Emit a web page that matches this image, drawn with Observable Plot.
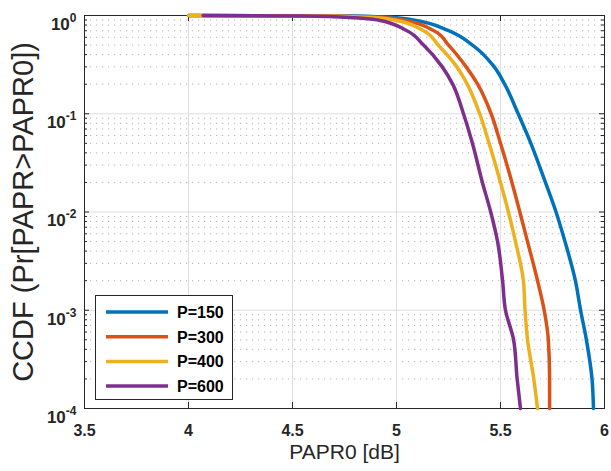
<!DOCTYPE html>
<html><head><meta charset="utf-8">
<script src="https://cdn.jsdelivr.net/npm/d3@7"></script>
<script src="https://cdn.jsdelivr.net/npm/@observablehq/plot@0.6"></script>
<style>body{margin:0;background:#fff} #chart svg{display:block}</style>
</head><body><div id="chart"></div>
<script>
// CCDF probability levels (y) shared by every curve
const levels = [1, 0.99, 0.95, 0.9, 0.7, 0.5, 0.3, 0.2, 0.1, 0.05, 0.02, 0.01, 0.005, 0.002, 0.001, 0.0005, 0.0002, 0.0001];
// PAPR0 [dB] (x) where each curve crosses those levels
const papr150 = [4.0, 4.8, 5.0, 5.08, 5.25, 5.365, 5.47, 5.52, 5.585, 5.646, 5.716, 5.767, 5.81, 5.86, 5.885, 5.913, 5.94, 5.947];
const papr300 = [4.0, 4.7, 4.95, 5.03, 5.18, 5.25, 5.335, 5.39, 5.455, 5.50, 5.555, 5.593, 5.63, 5.678, 5.71, 5.73, 5.736, 5.736];
const papr400 = [4.0, 4.65, 4.9, 4.99, 5.13, 5.20, 5.29, 5.34, 5.40, 5.445, 5.5, 5.538, 5.572, 5.61, 5.618, 5.63, 5.66, 5.678];
const papr600 = [4.07, 4.55, 4.8, 4.91, 5.05, 5.13, 5.22, 5.27, 5.322, 5.365, 5.413, 5.453, 5.486, 5.51, 5.524, 5.563, 5.58, 5.596];
const seriesNames = ["P=150", "P=300", "P=400", "P=600"];
const seriesColors = ["#0072BD", "#D95319", "#EDB120", "#7E2F8E"];
const xTicks = [3.5, 4, 4.5, 5, 5.5, 6];
const yTicks = [1e-4, 1e-3, 1e-2, 1e-1, 1];
const yTickLabels = ["10^-4", "10^-3", "10^-2", "10^-1", "10^0"];
const xLabel = "PAPR0 [dB]";
const yLabel = "CCDF (Pr[PAPR>PAPR0])";

const allSeries = [papr150, papr300, papr400, papr600];
const rows = [];
allSeries.forEach((xs, i) => xs.forEach((x, j) => rows.push({series: seriesNames[i], x, y: levels[j]})));
const yMinor = [];
for (let e = -4; e < 0; e++) for (let m = 2; m <= 9; m++) yMinor.push(m * Math.pow(10, e));

const W = 611, H = 471, mL = 84, mR = 7, mT = 15, mB = 63;
const pw = W - mL - mR, ph = H - mT - mB;
const axisColor = "#262626";
const font = "'Liberation Sans', Arial, Helvetica, sans-serif";

const chart = Plot.plot({
  width: W, height: H, marginLeft: mL, marginRight: mR, marginTop: mT, marginBottom: mB,
  style: {fontFamily: font, background: "#fff", color: axisColor},
  x: {domain: [3.5, 6]},
  y: {type: "log", domain: [1e-4, 1]},
  color: {domain: seriesNames, range: seriesColors},
  marks: [
    Plot.ruleY(yMinor, {y: d => d, stroke: "#b4b4b4", strokeWidth: 1, strokeDasharray: "1.2,4.8"}),
    Plot.ruleX(xTicks, {x: d => d, stroke: "#dedede", strokeWidth: 1}),
    Plot.ruleY(yTicks, {y: d => d, stroke: "#dedede", strokeWidth: 1}),
    Plot.frame({stroke: axisColor, strokeWidth: 1}),
    // inward ticks
    Plot.tickX(xTicks, {x: d => d, insetTop: ph - 6, stroke: axisColor}),
    Plot.tickX(xTicks, {x: d => d, insetBottom: ph - 6, stroke: axisColor}),
    Plot.tickY(yTicks, {y: d => d, insetRight: pw - 5, stroke: axisColor}),
    Plot.tickY(yTicks, {y: d => d, insetLeft: pw - 5, stroke: axisColor}),
    Plot.tickY(yMinor, {y: d => d, insetRight: pw - 3, stroke: axisColor}),
    Plot.tickY(yMinor, {y: d => d, insetLeft: pw - 3, stroke: axisColor}),
    Plot.line(rows, {x: "x", y: "y", z: "series", stroke: "series", strokeWidth: 3.5, strokeLinejoin: "round", curve: "monotone-y"}),
    Plot.axisX(xTicks, {tickSize: 0, tickPadding: 16, fontSize: 16, fontWeight: "bold", label: null, tickFormat: d => String(d)}),
    Plot.axisY(yTicks, {tickSize: 0, tickPadding: 8, fontSize: 17, fontWeight: "bold", label: null, dy: 9,
      tickFormat: d => yTickLabels[yTicks.indexOf(d)]}),
    Plot.text([xLabel], {frameAnchor: "bottom", dy: 50, fontSize: 21, fill: axisColor}),
    Plot.text([yLabel], {frameAnchor: "left", dx: -61, rotate: -90, textAnchor: "middle", fontSize: 29, fill: axisColor})
  ]
});
document.getElementById("chart").appendChild(chart);

// superscript exponents for the log tick labels
d3.select(chart).selectAll('g[aria-label="y-axis tick label"] text').each(function() {
  const t = d3.select(this);
  const parts = t.text().split("^");
  if (parts.length === 2) {
    t.text(parts[0]);
    t.append("tspan").attr("dy", "-8").attr("font-size", 12).text(parts[1]);
  }
});

// legend
const svg = d3.select(chart);
const lg = svg.append("g").attr("font-family", font).attr("text-anchor", "start");
lg.append("rect").attr("x", 95.5).attr("y", 295.5).attr("width", 137).attr("height", 104)
  .attr("fill", "#fff").attr("stroke", axisColor).attr("stroke-width", 1);
seriesNames.forEach((name, i) => {
  const yy = 312 + i * 24.7;
  lg.append("line").attr("x1", 106).attr("x2", 168).attr("y1", yy).attr("y2", yy)
    .attr("stroke", seriesColors[i]).attr("stroke-width", 3.5);
  lg.append("text").attr("x", 177).attr("y", yy + 6).attr("font-size", 16).attr("font-weight", "bold")
    .attr("fill", "#000").attr("text-anchor", "start").text(name);
});
</script></body></html>
